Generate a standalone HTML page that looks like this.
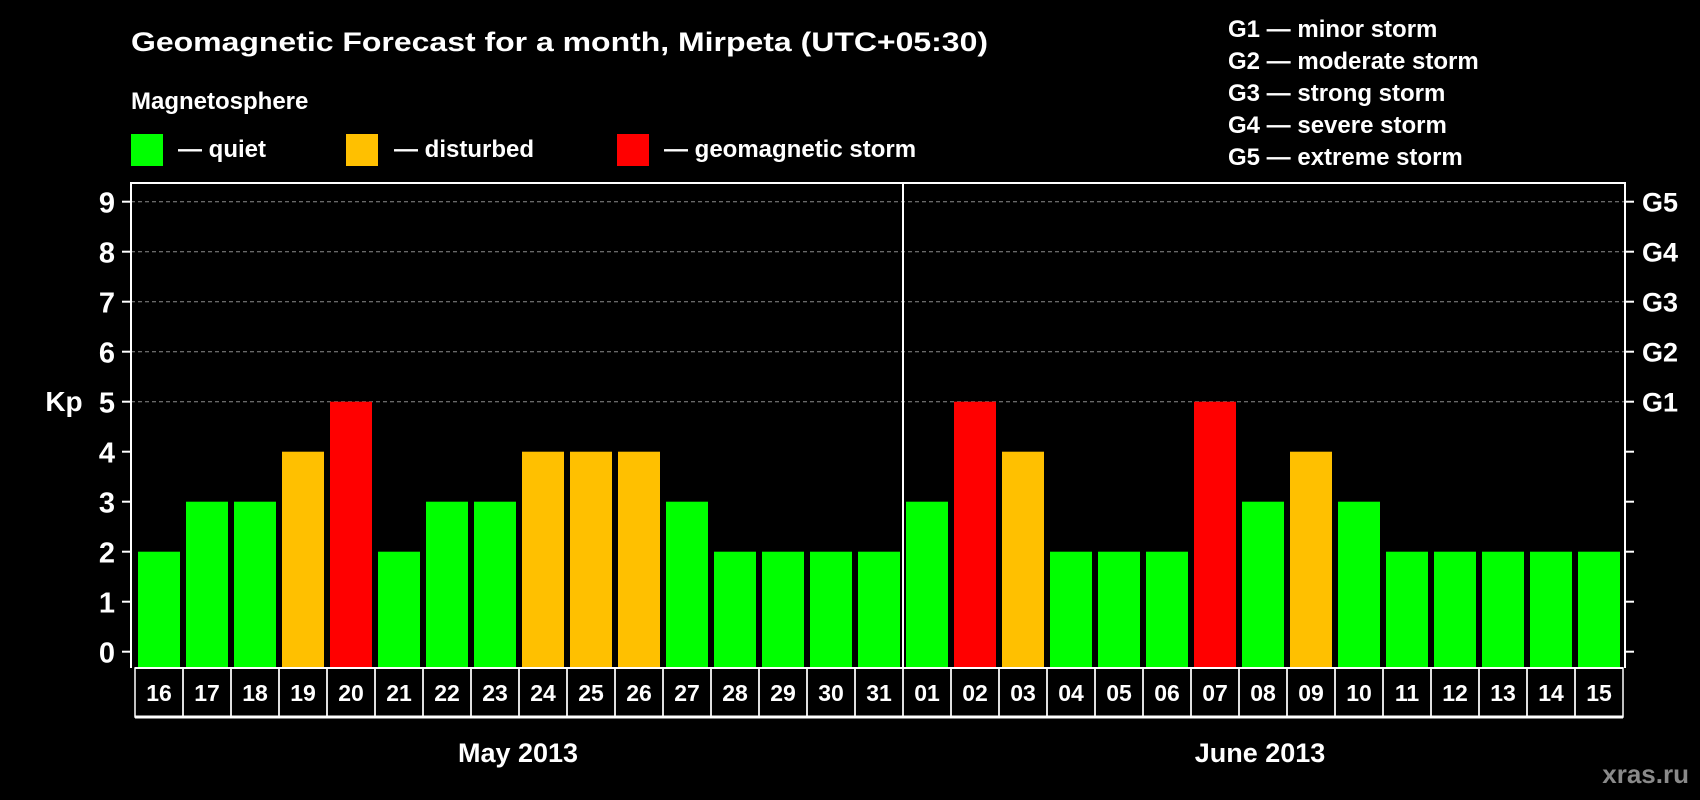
<!DOCTYPE html>
<html><head><meta charset="utf-8"><style>
html,body{margin:0;padding:0;background:#000;}
svg{display:block;font-family:"Liberation Sans",Arial,sans-serif;font-weight:bold;}
</style></head><body>
<svg id="chart" width="1700" height="800" viewBox="0 0 1700 800">
<rect width="1700" height="800" fill="#000"/>
<text x="131" y="51" font-size="27" fill="#fff" textLength="857" lengthAdjust="spacingAndGlyphs">Geomagnetic Forecast for a month, Mirpeta (UTC+05:30)</text>
<text x="131" y="109" font-size="24" fill="#fff">Magnetosphere</text>
<g><rect x="131" y="134" width="32" height="32" fill="#00ff00"/><text x="178" y="157" font-size="24" fill="#fff">— quiet</text></g>
<g><rect x="346" y="134" width="32" height="32" fill="#ffc000"/><text x="394" y="157" font-size="24" fill="#fff">— disturbed</text></g>
<g><rect x="617" y="134" width="32" height="32" fill="#ff0000"/><text x="664" y="157" font-size="24" fill="#fff">— geomagnetic storm</text></g>
<g font-size="24" fill="#fff">
<text x="1228" y="37">G1 — minor storm</text>
<text x="1228" y="69">G2 — moderate storm</text>
<text x="1228" y="101">G3 — strong storm</text>
<text x="1228" y="133">G4 — severe storm</text>
<text x="1228" y="165">G5 — extreme storm</text>
</g>
<g id="grid"></g><g id="bars"></g><g id="axes"></g><g id="labels"></g>
<text x="64" y="411" font-size="28" fill="#fff" text-anchor="middle">Kp</text>
<text x="518" y="762" font-size="27" fill="#fff" text-anchor="middle">May 2013</text>
<text x="1260" y="762" font-size="27" fill="#fff" text-anchor="middle">June 2013</text>
<text x="1689" y="783" font-size="26" fill="#8a8a8a" text-anchor="end">xras.ru</text>
</svg>
<script>
const days = ["16","17","18","19","20","21","22","23","24","25","26","27","28","29","30","31","01","02","03","04","05","06","07","08","09","10","11","12","13","14","15"];
const kpValues = [2,3,3,4,5,2,3,3,4,4,4,3,2,2,2,2,3,5,4,2,2,2,5,3,4,3,2,2,2,2,2];
const yTicks = [0,1,2,3,4,5,6,7,8,9];
const gLabels = ["G1","G2","G3","G4","G5"];
const gLevels = [5,6,7,8,9];
const monthSplit = 16;

const NS="http://www.w3.org/2000/svg";
const x0=135, cellW=48, yBase=651.7, unit=50, plotTop=183, plotBottom=668, plotLeft=131, plotRight=1625;
const yScale = v => yBase - v*unit;
const xc = i => x0 + i*cellW;
function mk(tag, attrs, parent){const e=document.createElementNS(NS,tag);for(const k in attrs)e.setAttribute(k,attrs[k]);document.getElementById(parent).appendChild(e);return e;}
function color(v){return v>=5?"#ff0000":(v>=4?"#ffc000":"#00ff00");}

gLevels.forEach((lv,i)=>{
  const l=mk("line",{x1:plotLeft,x2:plotRight,y1:yScale(lv),y2:yScale(lv),stroke:"#8c8c8c","stroke-width":1,"stroke-dasharray":"4,3"},"grid");
  
  
  const t=mk("text",{x:1642,y:yScale(lv)+10,"font-size":27,fill:"#fff"},"grid");
  t.textContent=gLabels[i];
  
  
});
kpValues.forEach((v,i)=>{
  const r=mk("rect",{x:xc(i)+3,y:yScale(v),width:42,height:plotBottom-yScale(v),fill:color(v)},"bars");
  
  
});
yTicks.forEach(v=>{
  const a=mk("line",{x1:122,x2:plotLeft,y1:yScale(v),y2:yScale(v),stroke:"#fff","stroke-width":2},"axes");
  
  
  const b=mk("line",{x1:plotRight,x2:1634,y1:yScale(v),y2:yScale(v),stroke:"#fff","stroke-width":2},"axes");
  
  
  const t=mk("text",{x:115,y:yScale(v)+11,"font-size":29,fill:"#fff","text-anchor":"end"},"axes");
  t.textContent=v;
  
  
});
const frame=mk("path",{d:`M${plotLeft} ${plotBottom} V${plotTop} H${plotRight} V${plotBottom}`,fill:"none",stroke:"#fff","stroke-width":2},"axes");


const div=mk("line",{x1:xc(monthSplit),x2:xc(monthSplit),y1:plotTop,y2:plotBottom,stroke:"#fff","stroke-width":2},"axes");


const base=mk("line",{x1:x0,x2:xc(days.length),y1:plotBottom,y2:plotBottom,stroke:"#fff","stroke-width":2},"axes");


days.forEach((d,i)=>{
  const r=mk("rect",{x:xc(i),y:plotBottom,width:cellW,height:49,fill:"none",stroke:"#fff","stroke-width":1.5},"labels");
  
  
  const t=mk("text",{x:xc(i)+cellW/2,y:701,"font-size":23,fill:"#fff","text-anchor":"middle"},"labels");
  t.textContent=d;
  
  
});
const bl=mk("line",{x1:x0,x2:xc(days.length),y1:717,y2:717,stroke:"#fff","stroke-width":3},"labels");


</script>
</body></html>
